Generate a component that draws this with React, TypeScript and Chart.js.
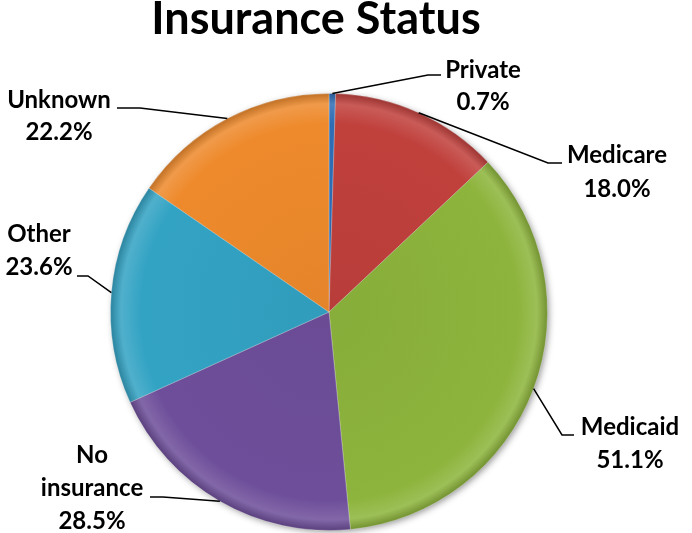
import React, { useEffect, useRef } from 'react';
import { Chart, registerables } from 'chart.js';

Chart.register(...registerables);

// ---- data ----
const categories: string[] = ['Private', 'Medicare', 'Medicaid', 'No insurance', 'Other', 'Unknown'];
const values: number[] = [0.7, 18.0, 51.1, 28.5, 23.6, 22.2];
const title = 'Insurance Status';

// ---- styles ----
const sliceColors: string[] = ['#2F6DB5', '#C0403C', '#8DB43C', '#6E4E9A', '#33A3C4', '#EE8A2C'];
const FONT = 'Lato, "Open Sans", "Liberation Sans", sans-serif';

// label layout: label block center x, first baseline y, line height,
// elbow x of leader, end x of horizontal leader segment, y of horizontal segment, wrap name
const labelLayout = [
  { cx: 483, y0: 78, lh: 32, elbowX: 428, endX: 441, segY: 75, wrap: false },
  { cx: 617, y0: 163, lh: 34, elbowX: 548, endX: 562, segY: 163, wrap: false },
  { cx: 630, y0: 435, lh: 33, elbowX: 562, endX: 574, segY: 435, wrap: false },
  { cx: 92, y0: 463, lh: 33, elbowX: 163, endX: 150, segY: 497, wrap: true },
  { cx: 39, y0: 242, lh: 33, elbowX: 88, endX: 77, segY: 276, wrap: false },
  { cx: 59, y0: 108, lh: 32, elbowX: 140, endX: 117, segY: 108, wrap: false },
];

function shade(hex: string, amt: number): string {
  const n = parseInt(hex.slice(1), 16);
  let r = (n >> 16) & 255, g = (n >> 8) & 255, b = n & 255;
  if (amt >= 0) {
    r = Math.round(r + (255 - r) * amt);
    g = Math.round(g + (255 - g) * amt);
    b = Math.round(b + (255 - b) * amt);
  } else {
    r = Math.round(r * (1 + amt));
    g = Math.round(g * (1 + amt));
    b = Math.round(b * (1 + amt));
  }
  return `rgb(${r},${g},${b})`;
}

const decorPlugin = {
  id: 'decor',
  beforeDatasetsDraw(chart: any) {
    const arc = chart.getDatasetMeta(0).data[0];
    if (!arc) return;
    const ctx = chart.ctx;
    ctx.save();
    ctx.shadowColor = 'rgba(0,0,0,0.45)';
    ctx.shadowBlur = 7;
    ctx.shadowOffsetX = 2;
    ctx.shadowOffsetY = 2;
    ctx.fillStyle = '#777';
    ctx.beginPath();
    ctx.arc(arc.x, arc.y, arc.outerRadius - 1, 0, Math.PI * 2);
    ctx.fill();
    ctx.restore();
  },
  afterDraw(chart: any) {
    const ctx = chart.ctx;
    ctx.save();
    // title
    ctx.fillStyle = '#000';
    ctx.font = `bold 45px ${FONT}`;
    ctx.textAlign = 'center';
    ctx.textBaseline = 'alphabetic';
    ctx.fillText(title, 316, 34);

    const meta = chart.getDatasetMeta(0);
    meta.data.forEach((arc: any, i: number) => {
      const L = labelLayout[i];
      const mid = (arc.startAngle + arc.endAngle) / 2;
      const sx = arc.x + Math.cos(mid) * arc.outerRadius;
      const sy = arc.y + Math.sin(mid) * arc.outerRadius;
      ctx.strokeStyle = '#000';
      ctx.lineWidth = 1.5;
      ctx.beginPath();
      ctx.moveTo(sx, sy);
      ctx.lineTo(L.elbowX, L.segY);
      ctx.lineTo(L.endX, L.segY);
      ctx.stroke();

      const name = categories[i];
      const lines = (L.wrap ? name.split(' ') : [name]).concat([`${values[i].toFixed(1)}%`]);
      ctx.font = `bold 24px ${FONT}`;
      ctx.fillStyle = '#000';
      ctx.textAlign = 'center';
      lines.forEach((t, k) => ctx.fillText(t, L.cx, L.y0 + k * L.lh));
    });
    ctx.restore();
  },
};

export default function App() {
  const ref = useRef<HTMLCanvasElement | null>(null);
  useEffect(() => {
    if (!ref.current) return;
    const chart = new Chart(ref.current, {
      type: 'pie',
      data: {
        labels: categories,
        datasets: [
          {
            data: values,
            backgroundColor: (c: any) => {
              const base = sliceColors[c.dataIndex % sliceColors.length];
              const area = c.chart.chartArea;
              if (!area) return base;
              const cx = (area.left + area.right) / 2;
              const cy = (area.top + area.bottom) / 2;
              const r = Math.min(area.right - area.left, area.bottom - area.top) / 2;
              const g = c.chart.ctx.createRadialGradient(cx, cy, 0, cx, cy, r);
              g.addColorStop(0, shade(base, -0.04));
              g.addColorStop(0.86, base);
              g.addColorStop(0.95, shade(base, 0.14));
              g.addColorStop(1, shade(base, -0.2));
              return g;
            },
            borderColor: 'rgba(255,255,255,0.25)',
            borderWidth: 1,
          },
        ],
      },
      options: {
        responsive: false,
        animation: false,
        layout: { padding: { left: 110, top: 93, right: 144, bottom: 2 } },
        plugins: {
          legend: { display: false },
          title: { display: false },
          tooltip: { enabled: false },
        },
      },
      plugins: [decorPlugin],
    });
    return () => chart.destroy();
  }, []);

  return (
    <div style={{ position: 'absolute', left: 0, top: 0, width: 692, height: 533, background: '#fff' }}>
      <canvas ref={ref} width={692} height={533} style={{ display: 'block' }} />
    </div>
  );
}
